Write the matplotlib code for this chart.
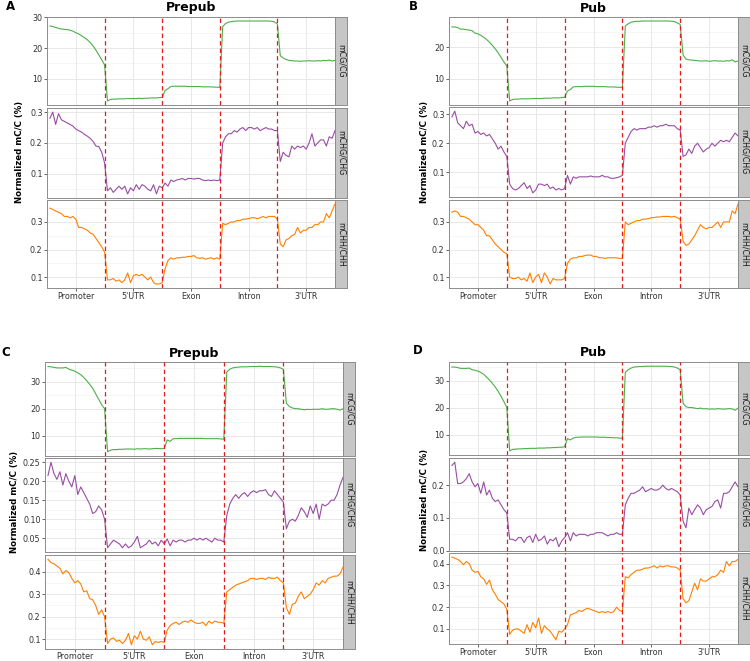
import numpy as np
import matplotlib
matplotlib.use("Agg")
import matplotlib.pyplot as plt

# regions along the gene body, 20 bins each
regions = ["Promoter", "5'UTR", "Exon", "Intron", "3'UTR"]
contexts = ["mCG/CG", "mCHG/CHG", "mCHH/CHH"]
titles = ["Prepub", "Pub", "Prepub", "Pub"]
letters = ["A", "B", "C", "D"]

# ---- panel A (Prepub) ----
a_cg = ([27.2, 27.0, 26.7, 26.4, 26.2, 26.1, 26.0, 25.8, 25.5, 25.0, 24.6, 24.0, 23.4, 22.7, 21.8, 20.7, 19.3, 17.8, 16.2, 14.5] +
        [2.8, 3.3, 3.4, 3.4, 3.5, 3.5, 3.5, 3.6, 3.6, 3.6, 3.6, 3.7, 3.6, 3.7, 3.7, 3.8, 3.8, 3.8, 3.9, 4.0] +
        [6.2, 6.8, 7.5, 7.6, 7.6, 7.6, 7.6, 7.6, 7.5, 7.5, 7.5, 7.5, 7.5, 7.4, 7.4, 7.4, 7.4, 7.3, 7.3, 7.2] +
        [27.0, 28.0, 28.4, 28.6, 28.7, 28.8, 28.8, 28.8, 28.8, 28.8, 28.8, 28.8, 28.8, 28.8, 28.8, 28.8, 28.8, 28.7, 28.5, 27.8] +
        [17.5, 16.8, 16.3, 16.0, 15.9, 15.8, 15.8, 15.7, 15.8, 15.8, 15.9, 15.8, 15.8, 15.9, 15.8, 16.0, 15.9, 16.1, 15.8, 16.0])
a_chg = ([0.28, 0.30, 0.26, 0.295, 0.275, 0.27, 0.265, 0.26, 0.255, 0.245, 0.24, 0.235, 0.228, 0.222, 0.215, 0.205, 0.19, 0.188, 0.17, 0.135] +
         [0.045, 0.055, 0.04, 0.05, 0.06, 0.05, 0.06, 0.035, 0.055, 0.045, 0.065, 0.05, 0.065, 0.06, 0.05, 0.045, 0.065, 0.035, 0.06, 0.055] +
         [0.07, 0.06, 0.08, 0.075, 0.08, 0.082, 0.085, 0.08, 0.085, 0.085, 0.083, 0.085, 0.085, 0.08, 0.078, 0.08, 0.078, 0.08, 0.078, 0.08] +
         [0.2, 0.22, 0.23, 0.23, 0.24, 0.235, 0.245, 0.25, 0.24, 0.25, 0.25, 0.245, 0.25, 0.24, 0.245, 0.25, 0.245, 0.245, 0.24, 0.24] +
         [0.14, 0.17, 0.16, 0.155, 0.19, 0.18, 0.19, 0.185, 0.19, 0.18, 0.2, 0.23, 0.19, 0.2, 0.21, 0.21, 0.19, 0.22, 0.215, 0.24])
a_chh = ([0.35, 0.345, 0.34, 0.335, 0.33, 0.32, 0.32, 0.315, 0.32, 0.31, 0.28, 0.28, 0.275, 0.27, 0.26, 0.255, 0.24, 0.225, 0.21, 0.19] +
         [0.09, 0.09, 0.095, 0.085, 0.09, 0.08, 0.09, 0.115, 0.08, 0.105, 0.11, 0.105, 0.11, 0.1, 0.09, 0.1, 0.08, 0.075, 0.075, 0.08] +
         [0.13, 0.16, 0.17, 0.165, 0.17, 0.17, 0.172, 0.172, 0.175, 0.175, 0.178, 0.17, 0.168, 0.17, 0.165, 0.168, 0.17, 0.165, 0.17, 0.165] +
         [0.295, 0.29, 0.295, 0.3, 0.3, 0.305, 0.305, 0.31, 0.31, 0.312, 0.315, 0.315, 0.312, 0.315, 0.32, 0.315, 0.32, 0.32, 0.32, 0.31] +
         [0.22, 0.21, 0.235, 0.24, 0.25, 0.255, 0.28, 0.26, 0.27, 0.27, 0.28, 0.28, 0.29, 0.29, 0.3, 0.3, 0.33, 0.315, 0.34, 0.365])

# ---- panel B (Pub) ----
b_cg = ([26.5, 26.5, 26.3, 25.8, 25.8, 25.6, 25.5, 25.3, 24.5, 24.3, 23.8, 23.2, 22.5, 21.6, 20.6, 19.5, 18.2, 16.8, 15.3, 14.0] +
        [2.8, 3.3, 3.4, 3.4, 3.5, 3.5, 3.5, 3.5, 3.6, 3.6, 3.6, 3.6, 3.7, 3.7, 3.7, 3.8, 3.8, 3.8, 3.9, 4.0] +
        [6.0, 6.5, 7.3, 7.4, 7.4, 7.4, 7.5, 7.5, 7.5, 7.5, 7.4, 7.4, 7.4, 7.4, 7.3, 7.3, 7.3, 7.2, 7.2, 7.1] +
        [26.8, 27.5, 28.0, 28.2, 28.3, 28.3, 28.4, 28.4, 28.4, 28.4, 28.4, 28.4, 28.4, 28.4, 28.4, 28.4, 28.3, 28.2, 27.8, 27.3] +
        [17.5, 16.2, 16.0, 15.9, 15.8, 15.7, 15.6, 15.6, 15.7, 15.5, 15.6, 15.7, 15.6, 15.6, 15.5, 15.7, 15.6, 16.0, 15.3, 15.6])
b_chg = ([0.29, 0.31, 0.27, 0.26, 0.25, 0.275, 0.26, 0.265, 0.235, 0.24, 0.23, 0.235, 0.225, 0.23, 0.215, 0.2, 0.18, 0.19, 0.17, 0.155] +
         [0.06, 0.045, 0.04, 0.045, 0.055, 0.065, 0.045, 0.055, 0.03, 0.04, 0.06, 0.06, 0.055, 0.06, 0.045, 0.05, 0.04, 0.045, 0.04, 0.045] +
         [0.09, 0.06, 0.085, 0.08, 0.085, 0.085, 0.085, 0.085, 0.088, 0.085, 0.085, 0.085, 0.09, 0.085, 0.085, 0.08, 0.08, 0.082, 0.085, 0.09] +
         [0.2, 0.22, 0.24, 0.25, 0.245, 0.25, 0.25, 0.25, 0.255, 0.255, 0.26, 0.255, 0.26, 0.26, 0.265, 0.26, 0.26, 0.26, 0.25, 0.245] +
         [0.155, 0.16, 0.18, 0.165, 0.19, 0.2, 0.185, 0.17, 0.18, 0.185, 0.2, 0.19, 0.2, 0.21, 0.205, 0.21, 0.205, 0.22, 0.235, 0.225])
b_chh = ([0.335, 0.34, 0.335, 0.32, 0.32, 0.315, 0.31, 0.3, 0.29, 0.29, 0.28, 0.27, 0.25, 0.25, 0.235, 0.22, 0.21, 0.2, 0.19, 0.185] +
         [0.1, 0.095, 0.095, 0.1, 0.09, 0.095, 0.085, 0.115, 0.08, 0.1, 0.11, 0.08, 0.115, 0.1, 0.075, 0.095, 0.09, 0.09, 0.09, 0.095] +
         [0.15, 0.165, 0.17, 0.17, 0.175, 0.175, 0.178, 0.18, 0.18, 0.175, 0.175, 0.17, 0.17, 0.168, 0.17, 0.17, 0.17, 0.17, 0.168, 0.168] +
         [0.3, 0.29, 0.295, 0.3, 0.305, 0.305, 0.31, 0.31, 0.312, 0.315, 0.316, 0.318, 0.318, 0.32, 0.32, 0.32, 0.318, 0.32, 0.315, 0.31] +
         [0.23, 0.215, 0.22, 0.235, 0.25, 0.27, 0.29, 0.28, 0.275, 0.28, 0.28, 0.29, 0.3, 0.28, 0.3, 0.3, 0.3, 0.34, 0.33, 0.365])

# ---- panel C (Prepub) ----
c_cg = ([35.5, 35.4, 35.2, 35.0, 35.0, 35.0, 35.2, 34.5, 34.2, 33.8, 33.2, 32.5, 31.5, 30.3, 29.0, 27.5, 25.5, 23.5, 21.5, 20.0] +
        [4.2, 4.8, 5.0, 5.0, 5.1, 5.1, 5.2, 5.2, 5.2, 5.1, 5.3, 5.2, 5.3, 5.3, 5.2, 5.3, 5.4, 5.4, 5.3, 5.4] +
        [8.5, 8.0, 9.0, 9.0, 9.1, 9.1, 9.1, 9.1, 9.1, 9.1, 9.1, 9.1, 9.1, 9.0, 9.0, 9.0, 9.0, 9.0, 8.9, 8.8] +
        [33.5, 34.5, 35.0, 35.2, 35.3, 35.4, 35.4, 35.4, 35.5, 35.5, 35.5, 35.6, 35.5, 35.5, 35.5, 35.5, 35.4, 35.3, 35.0, 34.5] +
        [22.0, 20.8, 20.3, 20.0, 20.0, 19.8, 19.6, 19.8, 19.7, 19.8, 19.8, 19.8, 20.0, 19.8, 19.8, 20.0, 20.0, 19.8, 19.5, 20.0])
c_chg = ([0.215, 0.25, 0.22, 0.205, 0.225, 0.19, 0.22, 0.2, 0.185, 0.215, 0.165, 0.185, 0.17, 0.155, 0.14, 0.115, 0.12, 0.135, 0.125, 0.10] +
         [0.025, 0.035, 0.045, 0.04, 0.035, 0.025, 0.035, 0.025, 0.03, 0.04, 0.055, 0.025, 0.03, 0.035, 0.045, 0.035, 0.04, 0.03, 0.045, 0.035] +
         [0.048, 0.03, 0.045, 0.04, 0.045, 0.045, 0.04, 0.045, 0.045, 0.05, 0.045, 0.05, 0.045, 0.05, 0.045, 0.04, 0.05, 0.045, 0.045, 0.04] +
         [0.11, 0.14, 0.155, 0.165, 0.155, 0.165, 0.17, 0.16, 0.17, 0.175, 0.17, 0.175, 0.175, 0.178, 0.165, 0.16, 0.175, 0.165, 0.155, 0.145] +
         [0.075, 0.095, 0.1, 0.095, 0.11, 0.13, 0.12, 0.105, 0.135, 0.115, 0.14, 0.1, 0.14, 0.135, 0.14, 0.15, 0.15, 0.165, 0.19, 0.21])
c_chh = ([0.455, 0.44, 0.435, 0.425, 0.415, 0.39, 0.405, 0.395, 0.37, 0.35, 0.36, 0.345, 0.31, 0.315, 0.28, 0.275, 0.25, 0.21, 0.23, 0.2] +
         [0.08, 0.1, 0.105, 0.09, 0.095, 0.08, 0.095, 0.125, 0.075, 0.115, 0.1, 0.135, 0.1, 0.095, 0.11, 0.075, 0.09, 0.085, 0.09, 0.085] +
         [0.14, 0.16, 0.17, 0.175, 0.165, 0.175, 0.18, 0.175, 0.185, 0.175, 0.17, 0.17, 0.175, 0.16, 0.18, 0.17, 0.18, 0.175, 0.175, 0.17] +
         [0.31, 0.32, 0.33, 0.34, 0.345, 0.35, 0.355, 0.36, 0.37, 0.37, 0.365, 0.37, 0.37, 0.365, 0.375, 0.37, 0.37, 0.375, 0.36, 0.35] +
         [0.24, 0.21, 0.255, 0.26, 0.29, 0.31, 0.28, 0.29, 0.3, 0.32, 0.35, 0.34, 0.36, 0.35, 0.37, 0.375, 0.38, 0.38, 0.39, 0.42])

# ---- panel D (Pub) ----
d_cg = ([35.0, 35.0, 34.8, 34.5, 34.5, 34.5, 34.6, 34.0, 33.8, 33.5, 33.0, 32.3, 31.3, 30.2, 29.0, 27.6, 26.0, 24.2, 22.2, 20.0] +
        [4.0, 4.5, 4.6, 4.7, 4.7, 4.8, 4.8, 4.9, 4.9, 4.9, 5.0, 5.0, 5.0, 5.1, 5.1, 5.2, 5.2, 5.3, 5.3, 5.5] +
        [8.5, 8.0, 8.7, 9.0, 9.0, 9.1, 9.1, 9.1, 9.1, 9.1, 9.1, 9.0, 9.0, 9.0, 8.9, 8.9, 8.8, 8.8, 8.7, 8.6] +
        [33.0, 34.0, 34.6, 35.0, 35.1, 35.2, 35.2, 35.3, 35.3, 35.3, 35.3, 35.3, 35.3, 35.3, 35.3, 35.2, 35.2, 35.0, 34.6, 34.0] +
        [21.5, 20.3, 20.0, 20.0, 19.8, 19.6, 19.8, 19.5, 19.6, 19.4, 19.5, 19.4, 19.6, 19.5, 19.4, 19.5, 19.6, 19.5, 19.0, 19.8])
d_chg = ([0.26, 0.27, 0.205, 0.205, 0.21, 0.22, 0.235, 0.21, 0.195, 0.205, 0.175, 0.21, 0.17, 0.185, 0.16, 0.15, 0.155, 0.14, 0.125, 0.115] +
         [0.035, 0.035, 0.03, 0.04, 0.04, 0.025, 0.04, 0.045, 0.025, 0.05, 0.03, 0.035, 0.045, 0.02, 0.035, 0.03, 0.04, 0.012, 0.03, 0.04] +
         [0.055, 0.03, 0.055, 0.045, 0.05, 0.05, 0.05, 0.045, 0.05, 0.05, 0.055, 0.055, 0.055, 0.05, 0.045, 0.05, 0.05, 0.055, 0.05, 0.05] +
         [0.14, 0.16, 0.175, 0.175, 0.18, 0.185, 0.195, 0.18, 0.185, 0.19, 0.185, 0.185, 0.19, 0.2, 0.19, 0.185, 0.19, 0.185, 0.18, 0.17] +
         [0.09, 0.07, 0.13, 0.11, 0.125, 0.14, 0.13, 0.11, 0.125, 0.13, 0.135, 0.15, 0.155, 0.13, 0.175, 0.175, 0.18, 0.195, 0.21, 0.195])
d_chh = ([0.43, 0.425, 0.42, 0.41, 0.395, 0.41, 0.4, 0.37, 0.36, 0.365, 0.34, 0.33, 0.305, 0.325, 0.28, 0.26, 0.235, 0.225, 0.215, 0.19] +
         [0.075, 0.095, 0.1, 0.1, 0.09, 0.08, 0.12, 0.085, 0.13, 0.105, 0.15, 0.08, 0.115, 0.1, 0.09, 0.07, 0.05, 0.09, 0.085, 0.1] +
         [0.12, 0.165, 0.17, 0.175, 0.185, 0.18, 0.19, 0.195, 0.19, 0.185, 0.18, 0.175, 0.18, 0.175, 0.18, 0.175, 0.18, 0.2, 0.185, 0.18] +
         [0.34, 0.335, 0.35, 0.36, 0.37, 0.37, 0.375, 0.38, 0.38, 0.385, 0.39, 0.38, 0.39, 0.385, 0.39, 0.39, 0.385, 0.385, 0.38, 0.37] +
         [0.24, 0.22, 0.23, 0.27, 0.31, 0.28, 0.33, 0.32, 0.32, 0.33, 0.34, 0.34, 0.35, 0.37, 0.36, 0.41, 0.39, 0.41, 0.41, 0.42])

panels_data = [[a_cg, a_chg, a_chh], [b_cg, b_chg, b_chh],
               [c_cg, c_chg, c_chh], [d_cg, d_chg, d_chh]]

# y tick breaks per facet
yticks = [[[10, 20, 30], [0.1, 0.2, 0.3], [0.1, 0.2, 0.3]],
          [[10, 20], [0.1, 0.2, 0.3], [0.1, 0.2, 0.3]],
          [[10, 20, 30], [0.05, 0.10, 0.15, 0.20, 0.25], [0.1, 0.2, 0.3, 0.4]],
          [[10, 20, 30], [0.0, 0.1, 0.2], [0.1, 0.2, 0.3, 0.4]]]
ytick_fmt = [["%d", "%.1f", "%.1f"], ["%d", "%.1f", "%.1f"],
             ["%d", "%.2f", "%.1f"], ["%d", "%.1f", "%.1f"]]

colors = ["#4DAF4A", "#984EA3", "#FF7F00"]

# layout in pixels (left, right, facet tops/bottoms, title y, letter xy, ylabel xy, x label pad)
W, H = 750, 661
layout = [
    dict(l=47, r=335, f=[(17, 105), (108, 198), (200, 288)], ty=8, lx=10, ly=7, yl=20, ym=152, xp=0.8),
    dict(l=449, r=738, f=[(17, 105), (107, 197), (200, 288)], ty=8, lx=413, ly=7, yl=424, ym=152, xp=0.8),
    dict(l=45, r=343, f=[(362, 456), (458, 552), (555, 649)], ty=353, lx=6, ly=352, yl=14, ym=502, xp=0.2),
    dict(l=449, r=738, f=[(362, 455), (458, 551), (553, 644)], ty=353, lx=418, ly=351, yl=424, ym=500, xp=0.8),
]
strip_w = 12

x = np.arange(1, 101)
bounds = [20, 40, 60, 80]
xcenters = [10, 30, 50, 70, 90]

fig = plt.figure(figsize=(W / 100, H / 100), dpi=100)
fig.patch.set_facecolor("white")


def fx(px):
    return px / W


def fy(py):
    return 1 - py / H


for p in range(4):
    L = layout[p]
    for k in range(3):
        top, bot = L["f"][k]
        ax = fig.add_axes([fx(L["l"]), fy(bot), fx(L["r"] - L["l"]), (bot - top) / H])
        vals = np.array(panels_data[p][k])
        lo, hi = vals.min(), vals.max()
        pad = (hi - lo) * 0.05
        ax.set_ylim(lo - pad, hi + pad)
        ax.set_xlim(0, 100)

        # grid like theme_bw
        yt = yticks[p][k]
        step = yt[1] - yt[0]
        minors = np.arange(yt[0] - step / 2, hi + pad + step, step)
        for m in minors:
            ax.axhline(m, color="#F3F3F3", lw=0.5, zorder=0)
        for t in yt:
            ax.axhline(t, color="#E8E8E8", lw=0.7, zorder=0)
        for xc in xcenters:
            ax.axvline(xc, color="#E8E8E8", lw=0.7, zorder=0)

        ax.plot(x, vals, color=colors[k], lw=0.8, zorder=2)
        for b in bounds:
            ax.axvline(b, color="#E41A1C", lw=0.9, ls=(0, (3.5, 2.5)), zorder=3)

        ax.set_yticks(yt)
        ax.set_yticklabels([ytick_fmt[p][k] % t for t in yt])
        ax.set_xticks(xcenters)
        if k == 2:
            ax.set_xticklabels(regions)
        else:
            ax.set_xticklabels([])
        ax.tick_params(length=2, width=0.6, color="#4D4D4D", labelsize=5.8, pad=1.2,
                       labelcolor="#333333")
        if k != 2:
            ax.tick_params(axis="x", length=0)
        else:
            ax.tick_params(axis="x", pad=L["xp"])
        for s in ax.spines.values():
            s.set_color("#8C8C8C")
            s.set_linewidth(0.7)

        # facet strip on the right
        sax = fig.add_axes([fx(L["r"]), fy(bot), fx(strip_w), (bot - top) / H])
        sax.set_facecolor("#C6C6C6")
        sax.set_xticks([])
        sax.set_yticks([])
        for s in sax.spines.values():
            s.set_color("#8C8C8C")
            s.set_linewidth(0.7)
        sax.text(0.5, 0.5, contexts[k], rotation=270, ha="center", va="center",
                 fontsize=5.7, color="#1A1A1A", transform=sax.transAxes)

    cx = (L["l"] + L["r"]) / 2
    fig.text(fx(cx), fy(L["ty"]), titles[p], ha="center", va="center",
             fontsize=9, fontweight="bold")
    fig.text(fx(L["lx"]), fy(L["ly"]), letters[p], ha="center", va="center",
             fontsize=8.5, fontweight="bold")
    fig.text(fx(L["yl"]), fy(L["ym"]), "Normalized mC/C (%)", rotation=90,
             ha="center", va="center", fontsize=6.2, fontweight="bold")

fig.savefig("out.png", dpi=100)
